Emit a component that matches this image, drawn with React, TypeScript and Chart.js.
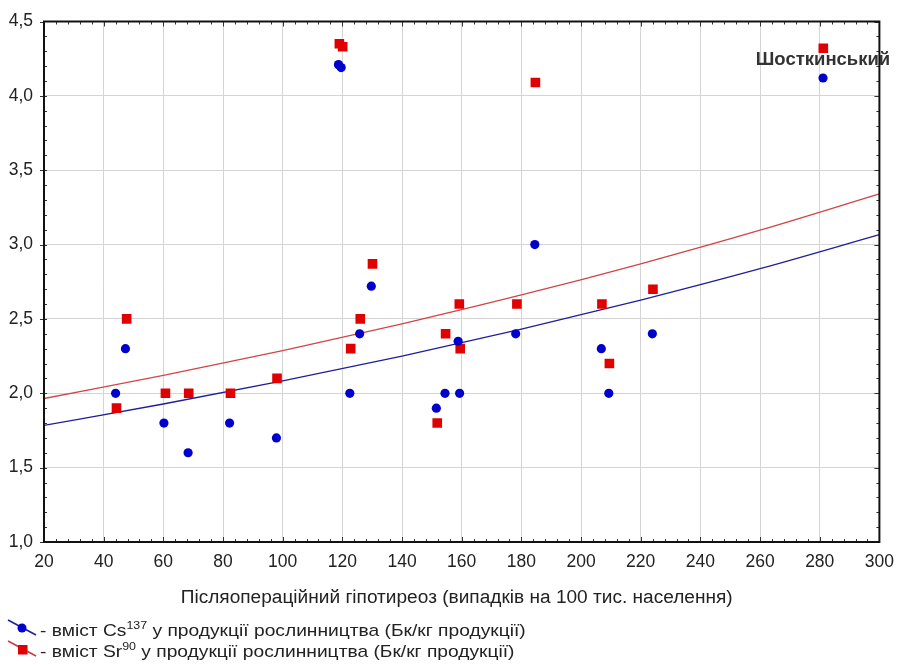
import React, { useEffect, useRef } from "react";
import { Chart, registerables } from "chart.js";

Chart.register(...registerables);

// ---- data ----
const xTicks = [20, 40, 60, 80, 100, 120, 140, 160, 180, 200, 220, 240, 260, 280, 300];
const yTicks = [1.0, 1.5, 2.0, 2.5, 3.0, 3.5, 4.0, 4.5];

const cs137X = [44.0, 47.3, 60.2, 68.3, 82.2, 97.9, 118.7, 119.6, 122.5, 125.8, 129.7, 151.5, 154.4, 158.8, 159.3, 178.1, 184.5, 206.8, 209.3, 223.9, 281.1];
const cs137Y = [2.0, 2.3, 1.8, 1.6, 1.8, 1.7, 4.21, 4.19, 2.0, 2.4, 2.72, 1.9, 2.0, 2.35, 2.0, 2.4, 3.0, 2.3, 2.0, 2.4, 4.12];

const sr90X = [44.3, 47.7, 60.7, 68.5, 82.5, 98.1, 119.0, 120.1, 122.8, 126.0, 130.1, 151.8, 154.6, 159.2, 159.5, 178.5, 184.7, 207.0, 209.5, 224.1, 281.2];
const sr90Y = [1.9, 2.5, 2.0, 2.0, 2.0, 2.1, 4.35, 4.33, 2.3, 2.5, 2.87, 1.8, 2.4, 2.6, 2.3, 2.6, 4.09, 2.6, 2.2, 2.7, 4.32];

const fitX = [20, 60, 100, 140, 180, 220, 260, 300];
const cs137Fit = [1.784, 1.928, 2.083, 2.25, 2.431, 2.627, 2.838, 3.067];
const sr90Fit = [1.965, 2.12, 2.287, 2.467, 2.661, 2.871, 3.097, 3.341];

const annotationText = "Шосткинський";
const annotationX = 281.1;
const annotationY = 4.24;

const xTitle = "Післяопераційний гіпотиреоз (випадків на 100 тис. населення)";
const legendRows = [
  { pre: "- вміст Cs", sup: "137", post: " у продукції рослинництва (Бк/кг продукції)", color: "#0000cc", line: "#1f1f9a", shape: "circle" },
  { pre: "- вміст Sr", sup: "90", post: " у продукції рослинництва (Бк/кг продукції)", color: "#e00000", line: "#c83c3c", shape: "rect" },
];

const toPts = (xs: number[], ys: number[]) => xs.map((x, i) => ({ x, y: ys[i] }));

const FONT = "'Liberation Sans', Arial, sans-serif";

const decorPlugin = {
  id: "decor",
  afterDraw(chart: any) {
    const { ctx, chartArea: a, scales } = chart;
    const xs = scales.x;
    const ys = scales.y;
    ctx.save();
    // minor ticks
    ctx.strokeStyle = "#333";
    ctx.lineWidth = 1;
    ctx.beginPath();
    for (let v = 1.0; v <= 4.5001; v += 0.1) {
      const y = Math.round(ys.getPixelForValue(v)) + 0.5;
      ctx.moveTo(a.left, y);
      ctx.lineTo(a.left + 3, y);
      ctx.moveTo(a.right, y);
      ctx.lineTo(a.right - 3, y);
    }
    for (let v = 20; v <= 300.001; v += 4) {
      const x = Math.round(xs.getPixelForValue(v)) + 0.5;
      ctx.moveTo(x, a.bottom);
      ctx.lineTo(x, a.bottom - 3);
      ctx.moveTo(x, a.top);
      ctx.lineTo(x, a.top + 3);
    }
    for (const v of yTicks) {
      const y = Math.round(ys.getPixelForValue(v)) + 0.5;
      ctx.moveTo(a.left, y);
      ctx.lineTo(a.left - 4, y);
      ctx.moveTo(a.right, y);
      ctx.lineTo(a.right - 5, y);
    }
    for (const v of xTicks) {
      const x = Math.round(xs.getPixelForValue(v)) + 0.5;
      ctx.moveTo(x, a.bottom);
      ctx.lineTo(x, a.bottom - 5);
      ctx.moveTo(x, a.top);
      ctx.lineTo(x, a.top + 5);
    }
    ctx.stroke();
    // frame
    ctx.strokeStyle = "#111";
    ctx.lineWidth = 2;
    ctx.strokeRect(a.left, a.top, a.right - a.left, a.bottom - a.top);

    // annotation
    ctx.fillStyle = "#333";
    ctx.font = `bold 18.5px ${FONT}`;
    ctx.textAlign = "center";
    ctx.textBaseline = "middle";
    ctx.fillText(annotationText, xs.getPixelForValue(annotationX), ys.getPixelForValue(annotationY));

    // x title (slightly wide lettering as in the reference)
    ctx.fillStyle = "#222";
    ctx.font = `18px ${FONT}`;
    ctx.save();
    ctx.translate((a.left + a.right) / 2 - 5, 598);
    ctx.scale(1.06, 1);
    ctx.fillText(xTitle, 0, 0);
    ctx.restore();

    // legend
    legendRows.forEach((r, i) => {
      const cy = 630 + i * 21;
      ctx.strokeStyle = r.line;
      ctx.lineWidth = 1.5;
      ctx.beginPath();
      ctx.moveTo(8, cy - 10);
      ctx.lineTo(36, cy + 5);
      ctx.stroke();
      ctx.fillStyle = r.color;
      if (r.shape === "circle") {
        ctx.beginPath();
        ctx.arc(22, cy - 2, 4.5, 0, Math.PI * 2);
        ctx.fill();
      } else {
        ctx.fillRect(18, cy - 6, 9.5, 9.5);
      }
      ctx.fillStyle = "#222";
      ctx.textAlign = "left";
      ctx.textBaseline = "alphabetic";
      ctx.save();
      ctx.translate(40, cy + 6);
      ctx.scale(1.13, 1);
      let x = 0;
      ctx.font = `17px ${FONT}`;
      ctx.fillText(r.pre, x, 0);
      x += ctx.measureText(r.pre).width;
      ctx.font = `11px ${FONT}`;
      ctx.fillText(r.sup, x, -7);
      x += ctx.measureText(r.sup).width;
      ctx.font = `17px ${FONT}`;
      ctx.fillText(r.post, x, 0);
      ctx.restore();
    });
    ctx.restore();
  },
};

export default function App() {
  const ref = useRef<HTMLCanvasElement | null>(null);
  useEffect(() => {
    document.body.style.margin = "0";
    const canvas = ref.current;
    if (!canvas) return;
    const chart = new Chart(canvas, {
      type: "scatter",
      data: {
        datasets: [
          {
            label: "Cs137",
            data: toPts(cs137X, cs137Y),
            pointStyle: "circle",
            pointRadius: 4.6,
            backgroundColor: "#0000cc",
            borderColor: "#0000cc",
            borderWidth: 0,
            order: 0,
          },
          {
            label: "Sr90",
            data: toPts(sr90X, sr90Y),
            pointStyle: "rect",
            pointRadius: 6.8,
            backgroundColor: "#e00000",
            borderColor: "#e00000",
            borderWidth: 0,
            order: 1,
          },
          {
            label: "Cs137 fit",
            type: "line" as any,
            data: toPts(fitX, cs137Fit),
            showLine: true,
            pointRadius: 0,
            borderColor: "#1f1f9a",
            borderWidth: 1.3,
            cubicInterpolationMode: "monotone",
            order: 3,
          } as any,
          {
            label: "Sr90 fit",
            type: "line" as any,
            data: toPts(fitX, sr90Fit),
            showLine: true,
            pointRadius: 0,
            borderColor: "#d04545",
            borderWidth: 1.3,
            cubicInterpolationMode: "monotone",
            order: 3,
          } as any,
        ],
      },
      options: {
        animation: false,
        responsive: false,
        layout: { padding: { top: 15, right: 23, bottom: 83, left: 0 } },
        plugins: { legend: { display: false }, tooltip: { enabled: false }, title: { display: false } },
        scales: {
          x: {
            type: "linear",
            min: 20,
            max: 300,
            afterBuildTicks: (s: any) => {
              s.ticks = xTicks.map((v) => ({ value: v }));
            },
            afterFit: (s: any) => {
              s.height = 40;
            },
            grid: { color: "#d4d4d4", drawTicks: false, lineWidth: 1 },
            border: { display: false },
            ticks: {
              padding: 10,
              color: "#222",
              font: { family: FONT, size: 17.5 },
              maxRotation: 0,
              autoSkip: false,
            },
          },
          y: {
            type: "linear",
            min: 1,
            max: 4.5,
            afterBuildTicks: (s: any) => {
              s.ticks = yTicks.map((v) => ({ value: v }));
            },
            afterFit: (s: any) => {
              s.width = 44;
            },
            grid: { color: "#d4d4d4", drawTicks: false, lineWidth: 1 },
            border: { display: false },
            ticks: {
              padding: 11,
              color: "#222",
              font: { family: FONT, size: 17.5 },
              autoSkip: false,
              callback: (v: any) => Number(v).toFixed(1).replace(".", ","),
            },
          },
        },
      },
      plugins: [decorPlugin],
    });
    return () => chart.destroy();
  }, []);
  return (
    <div style={{ position: "absolute", left: 0, top: 0, width: 904, height: 665, background: "#fff" }}>
      <canvas ref={ref} width={904} height={665} style={{ display: "block", width: 904, height: 665 }} />
    </div>
  );
}
